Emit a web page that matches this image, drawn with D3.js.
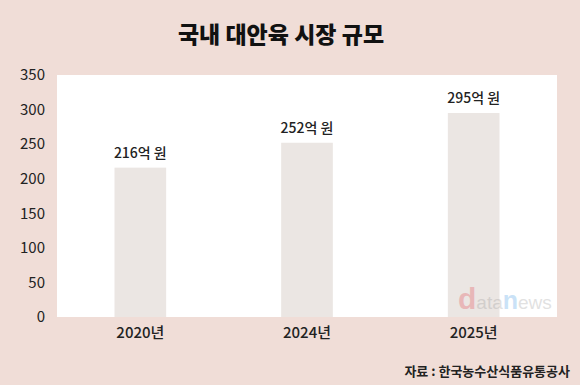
<!DOCTYPE html>
<html>
<head>
<meta charset="utf-8">
<script src="https://cdn.jsdelivr.net/npm/d3@7"></script>
<style>
  body { margin: 0; background: #f0ddd7; }
  svg { display: block; }
  text { font-family: "Noto Sans CJK KR", "Noto Sans", sans-serif; }
</style>
</head>
<body>
<div id="chart"></div>
<script>

// data
var years = ["2020년", "2024년", "2025년"];
var values = [216, 252, 295];
var valueLabels = ["216억 원", "252억 원", "295억 원"];
var yTicks = [0, 50, 100, 150, 200, 250, 300, 350];

var W = 580, H = 385;
var margin = {top: 75, right: 23, bottom: 68, left: 57},
    width = W - margin.left - margin.right,
    height = H - margin.top - margin.bottom;

var svg = d3.select("#chart").append("svg")
    .attr("width", W)
    .attr("height", H);

svg.append("rect")
    .attr("width", W).attr("height", H)
    .attr("fill", "#f0ddd7");

// title
svg.append("text")
    .attr("x", 281).attr("y", 43)
    .attr("text-anchor", "middle")
    .style("font-size", "23px")
    .style("font-weight", 900)
    .attr("fill", "#111")
    .text("국내 대안육 시장 규모");

var g = svg.append("g")
    .attr("transform", "translate(" + margin.left + "," + margin.top + ")");

// plot background
g.append("rect")
    .attr("width", width).attr("height", height)
    .attr("fill", "#ffffff");

var x = d3.scaleBand()
    .domain(years)
    .range([0, width])
    .paddingInner(0.69)
    .paddingOuter(0.345);

var y = d3.scaleLinear()
    .domain([0, 350])
    .range([height, 0]);

// y axis labels
var yAxis = d3.axisLeft(y).tickValues(yTicks).tickSize(0).tickPadding(12);
g.append("g").call(yAxis)
    .call(function(s){ s.select(".domain").remove(); })
    .selectAll("text")
    .style("font-family", "\"Noto Sans CJK KR\", sans-serif")
    .style("font-size", "15px")
    .attr("fill", "#222");

// x axis labels
var xAxis = d3.axisBottom(x).tickSize(0).tickPadding(10);
g.append("g")
    .attr("transform", "translate(0," + height + ")")
    .call(xAxis)
    .call(function(s){ s.select(".domain").remove(); })
    .selectAll("text")
    .style("font-family", "\"Noto Sans CJK KR\", sans-serif")
    .style("font-size", "15px")
    .style("font-weight", 500)
    .attr("fill", "#222");

// bars
g.selectAll("rect.bar")
    .data(values)
    .enter().append("rect")
    .attr("class", "bar")
    .attr("x", function(d, i){ return x(years[i]); })
    .attr("y", function(d){ return y(d); })
    .attr("width", x.bandwidth())
    .attr("height", function(d){ return height - y(d); })
    .attr("fill", "#ebe6e3");

// value labels
g.selectAll("text.val")
    .data(values)
    .enter().append("text")
    .attr("class", "val")
    .attr("x", function(d, i){ return x(years[i]) + x.bandwidth() / 2; })
    .attr("y", function(d){ return y(d) - 10; })
    .attr("text-anchor", "middle")
    .style("font-size", "14px")
    .style("font-weight", 500)
    .attr("fill", "#222")
    .text(function(d, i){ return valueLabels[i]; });

// watermark
var wm = svg.append("text")
    .attr("x", 458).attr("y", 309)
    .attr("opacity", 0.25)
    .style("font-family", "\"Liberation Sans\", sans-serif");
wm.append("tspan").attr("fill", "#e0303a").style("font-size", "30px").style("font-weight", 700).text("d");
wm.append("tspan").attr("fill", "#8a8a8a").style("font-size", "19px").text("ata");
wm.append("tspan").attr("fill", "#2f8fe0").style("font-size", "25px").style("font-weight", 700).text("n");
wm.append("tspan").attr("fill", "#8a8a8a").style("font-size", "19px").text("ews");

// source
svg.append("text")
    .attr("x", 570).attr("y", 376)
    .attr("text-anchor", "end")
    .style("font-size", "13px")
    .style("font-weight", 700)
    .attr("fill", "#222")
    .text("자료 : 한국농수산식품유통공사");

</script>
</body>
</html>
